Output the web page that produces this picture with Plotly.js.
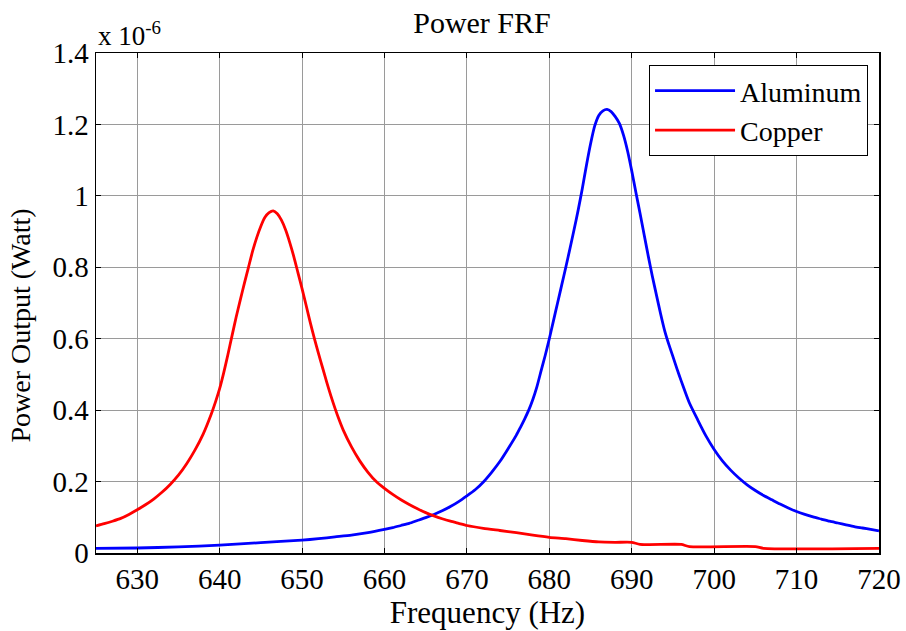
<!DOCTYPE html>
<html>
<head>
<meta charset="utf-8">
<script src="https://cdn.plot.ly/plotly-3.0.1.min.js"></script>
<style>
  html, body { margin: 0; padding: 0; background: #fff; }
  #chart { width: 906px; height: 631px; }
</style>
</head>
<body>
<div id="chart"></div>
<script>
// Values in units of 1e-6 W (axis shows "x 10^-6")
const copperFreq = [625,626,627,628,629,630,631,632,633,634,635,636,637,638,639,639.5,640,640.5,641,641.5,642,642.5,643,643.5,644,644.5,645,645.5,646,646.5,647,647.5,648,648.5,649,649.5,650,650.5,651,651.5,652,652.5,653,653.5,654,654.5,655,656,657,658,659,660,661,662,663,664,665,666,667,668,669,670,672,674,676,678,680,682,684,686,688,690,691,696,697,705,706,720];
const copperPower = [0.076,0.082,0.089,0.097,0.108,0.121,0.135,0.151,0.170,0.192,0.218,0.250,0.288,0.333,0.390,0.423,0.460,0.505,0.555,0.608,0.660,0.708,0.755,0.800,0.845,0.883,0.915,0.940,0.953,0.958,0.950,0.932,0.905,0.870,0.830,0.785,0.740,0.693,0.645,0.600,0.558,0.518,0.478,0.440,0.405,0.373,0.344,0.297,0.258,0.226,0.200,0.181,0.164,0.149,0.136,0.124,0.113,0.104,0.096,0.089,0.083,0.077,0.069,0.063,0.057,0.050,0.044,0.040,0.035,0.031,0.030,0.030,0.024,0.024,0.018,0.018,0.013,0.013];

const aluminumFreq = [625,630,635,640,645,650,652,654,656,658,660,661,662,663,664,665,666,667,668,669,670,671,672,673,674,675,676,676.5,677,677.5,678,678.5,679,679.5,680,680.5,681,681.5,682,682.5,683,683.5,684,684.5,685,685.5,686,686.5,687,687.5,688,688.5,689,689.5,690,690.5,691,691.5,692,692.5,693,693.5,694,694.5,695,695.5,696,696.5,697,698,699,700,701,702,703,704,705,706,707,708,709,710,711,712,713,714,715,716,717,718,719,720];
const aluminumPower = [0.013,0.014,0.017,0.022,0.029,0.036,0.040,0.045,0.050,0.057,0.066,0.071,0.077,0.083,0.091,0.099,0.108,0.118,0.130,0.144,0.160,0.177,0.199,0.226,0.256,0.292,0.330,0.352,0.375,0.400,0.430,0.466,0.510,0.553,0.600,0.650,0.700,0.750,0.800,0.852,0.905,0.960,1.020,1.085,1.145,1.195,1.225,1.238,1.242,1.236,1.222,1.203,1.170,1.125,1.070,1.010,0.952,0.892,0.832,0.775,0.722,0.670,0.622,0.584,0.550,0.515,0.482,0.450,0.420,0.373,0.328,0.290,0.258,0.232,0.210,0.191,0.175,0.161,0.149,0.137,0.126,0.116,0.108,0.101,0.095,0.089,0.084,0.079,0.074,0.070,0.066,0.062];

const xTicks = [630,640,650,660,670,680,690,700,710,720];
const yTicks = [0,0.2,0.4,0.6,0.8,1,1.2,1.4];
const yTickText = ['0','0.2','0.4','0.6','0.8','1','1.2','1.4'];

const serif = 'Liberation Serif';

const traces = [
  {x: aluminumFreq, y: aluminumPower, type: 'scatter', mode: 'lines', name: 'Aluminum',
   line: {color: '#0000ff', width: 2.8, shape: 'spline', smoothing: 0.6}},
  {x: copperFreq, y: copperPower, type: 'scatter', mode: 'lines', name: 'Copper',
   line: {color: '#ff0000', width: 2.8, shape: 'spline', smoothing: 0.6}}
];

const layout = {
  width: 906, height: 631,
  margin: {l: 96, r: 27, t: 53, b: 78},
  paper_bgcolor: '#fff', plot_bgcolor: '#fff',
  font: {family: serif, color: '#000', size: 27},
  title: {text: 'Power FRF', font: {family: serif, size: 30, color: '#000'},
          x: 0.532, xanchor: 'center', y: 0.965, yanchor: 'middle', yref: 'container'},
  xaxis: {
    range: [625, 720], tickvals: xTicks, ticks: 'inside', ticklen: 5, tickcolor: '#000',
    showline: true, linecolor: '#000', linewidth: 1.5, mirror: 'ticks',
    showgrid: true, gridcolor: '#9a9a9a', gridwidth: 1, zeroline: false,
    tickfont: {family: serif, size: 29, color: '#000'},
    title: {text: 'Frequency (Hz)', font: {family: serif, size: 31, color: '#000'}, standoff: 0}
  },
  yaxis: {
    range: [0, 1.4], tickvals: yTicks, ticktext: yTickText, ticks: 'inside', ticklen: 5, tickcolor: '#000',
    showline: true, linecolor: '#000', linewidth: 1.5, mirror: 'ticks',
    showgrid: true, gridcolor: '#9a9a9a', gridwidth: 1, zeroline: false,
    tickfont: {family: serif, size: 29, color: '#000'}
  },
  legend: {
    x: 0.986, y: 0.976, xanchor: 'right', yanchor: 'top',
    bgcolor: '#fff', bordercolor: '#000', borderwidth: 1,
    font: {family: serif, size: 28, color: '#000'},
    itemwidth: 80, tracegroupgap: 0
  },
  annotations: [
    {text: 'x 10<sup>-6</sup>', xref: 'paper', yref: 'paper', x: 0.0, y: 1.0,
     xanchor: 'left', yanchor: 'bottom', showarrow: false,
     font: {family: serif, size: 27, color: '#000'}},
    {text: 'Power Output (Watt)', xref: 'paper', yref: 'paper', x: -0.097, y: 0.455,
     xanchor: 'center', yanchor: 'middle', textangle: -90, showarrow: false,
     font: {family: serif, size: 28, color: '#000'}}
  ],
  showlegend: true
};

Plotly.newPlot('chart', traces, layout, {displayModeBar: false, staticPlot: true});
</script>
</body>
</html>
